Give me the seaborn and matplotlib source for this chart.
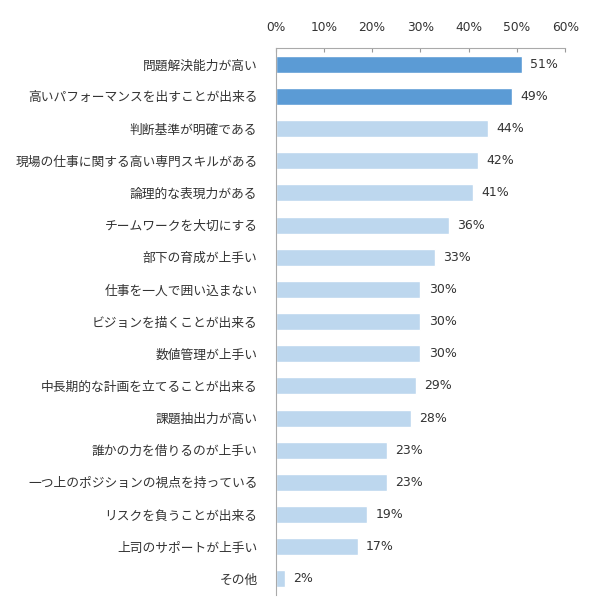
import matplotlib
matplotlib.use("Agg")
import matplotlib.pyplot as plt
import seaborn as sns
import numpy as np
from matplotlib.ticker import FixedLocator

sns.set_style("white")
plt.rcParams['font.family'] = ['Noto Sans CJK JP', 'DejaVu Sans']

categories = [
    "問題解決能力が高い",
    "高いパフォーマンスを出すことが出来る",
    "判断基準が明確である",
    "現場の仕事に関する高い専門スキルがある",
    "論理的な表現力がある",
    "チームワークを大切にする",
    "部下の育成が上手い",
    "仕事を一人で囲い込まない",
    "ビジョンを描くことが出来る",
    "数値管理が上手い",
    "中長期的な計画を立てることが出来る",
    "課題抽出力が高い",
    "誰かの力を借りるのが上手い",
    "一つ上のポジションの視点を持っている",
    "リスクを負うことが出来る",
    "上司のサポートが上手い",
    "その他",
]
values = [51, 49, 44, 42, 41, 36, 33, 30, 30, 30, 29, 28, 23, 23, 19, 17, 2]
xticks = [0, 10, 20, 30, 40, 50, 60]
xtick_labels = ["0%", "10%", "20%", "30%", "40%", "50%", "60%"]

dark = "#5B9BD5"
light = "#BDD7EE"
colors = [dark, dark] + [light] * (len(categories) - 2)

fig = plt.figure(figsize=(5.90, 6.09), dpi=100)
ax = fig.add_axes([0.467, 0.023, 0.491, 0.898])

sns.barplot(x=values, y=categories, hue=categories, palette=colors,
            legend=False, width=0.53, ax=ax, saturation=1, orient="h")

ax.set_xlim(0, 60)
ax.set_ylim(len(categories) - 0.5, -0.5)
ax.xaxis.tick_top()
ax.set_xticks(xticks)
ax.set_xticklabels(xtick_labels, fontsize=8.8, color="#333333", family="DejaVu Sans")
ax.tick_params(axis="x", direction="in", length=3, color="#999999", pad=10)
ax.tick_params(axis="y", which="major", length=0, pad=13, labelsize=9.2, labelcolor="#333333")
ax.yaxis.set_minor_locator(FixedLocator(np.arange(-0.5, len(categories), 1)))
ax.tick_params(axis="y", which="minor", direction="in", length=3, color="#bbbbbb")
ax.set_xlabel("")
ax.set_ylabel("")

for s in ["right", "bottom"]:
    ax.spines[s].set_visible(False)
for s in ["top", "left"]:
    ax.spines[s].set_color("#aaaaaa")
    ax.spines[s].set_linewidth(0.8)

for i, v in enumerate(values):
    ax.text(v + 1.7, i, f"{v}%", va="center", ha="left", fontsize=9,
            color="#333333", family="DejaVu Sans")

fig.savefig("out.png", dpi=100)
